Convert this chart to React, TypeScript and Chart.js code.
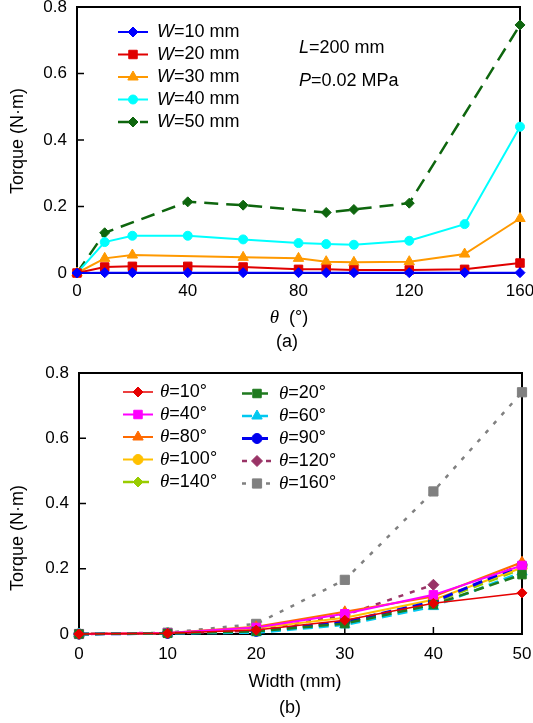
import React, { useEffect, useRef } from 'react';
import { Chart, registerables } from 'chart.js';
Chart.register(...registerables);

const SANS = '"Liberation Sans", Arial, Helvetica, sans-serif';
const SERIF = '"Liberation Serif", "Times New Roman", serif';
const FS = 18;
const TICK_FS = 17;

// ---------- (a) Torque vs theta ----------
const THETA = [0, 10, 20, 40, 60, 80, 90, 100, 120, 140, 160];
const THETA_TICKS = [0, 40, 80, 120, 160];
const W10 = [0, 0.001, 0.001, 0.001, 0.001, 0.001, 0.001, 0.001, 0.001, 0.001, 0.001];
const W20 = [0, 0.018, 0.02, 0.02, 0.018, 0.011, 0.011, 0.009, 0.009, 0.011, 0.03];
const W30 = [0, 0.044, 0.054, null, 0.047, 0.044, 0.034, 0.032, 0.034, 0.057, 0.164];
const W40 = [0, 0.093, 0.112, 0.112, 0.101, 0.09, 0.087, 0.085, 0.097, 0.147, 0.44];
const W50 = [0, 0.121, null, 0.214, 0.204, null, 0.182, 0.191, 0.21, null, 0.746];

// ---------- (b) Torque vs width ----------
const WIDTH = [0, 10, 20, 30, 40, 50];
const WIDTH_TICKS = [0, 10, 20, 30, 40, 50];
const T10 = [0, 0.002, 0.012, 0.042, 0.094, 0.126];
const T20 = [0, 0.002, 0.008, 0.032, 0.09, 0.182];
const T40 = [0, 0.003, 0.02, 0.062, 0.12, 0.21];
const T60 = [0, 0.002, 0.004, 0.028, 0.084, 0.19];
const T80 = [0, 0.003, 0.022, 0.068, 0.115, 0.22];
const T90 = [0, 0.002, 0.008, 0.038, 0.099, 0.212];
const T100 = [0, 0.003, 0.018, 0.05, 0.105, 0.203];
const T120 = [0, 0.002, 0.01, 0.058, 0.151, null];
const T140 = [0, 0.002, 0.01, 0.036, 0.096, 0.2];
const T160 = [0, 0.004, 0.031, 0.166, 0.437, 0.741];

const TORQUE_TICKS = [0, 0.2, 0.4, 0.6, 0.8];

type Seg = [string, string];
const sans = (s: string): Seg => [s, `${FS}px ${SANS}`];
const itSans = (s: string): Seg => [s, `italic ${FS}px ${SANS}`];
const itSerif = (s: string): Seg => [s, `italic ${FS + 1}px ${SERIF}`];

function ds(label: string, xs: number[], ys: (number | null)[], color: string, style: string, radius: number, dash: number[], width: number) {
  const data = xs.map((x, i) => ({ x, y: ys[i] })).filter((p) => p.y !== null);
  return {
    label,
    data,
    borderColor: color,
    backgroundColor: color,
    pointBackgroundColor: color,
    pointBorderColor: color,
    pointStyle: style,
    pointRadius: radius,
    pointBorderWidth: 1,
    borderWidth: width,
    borderDash: dash,
    tension: 0,
    clip: false as any,
  };
}

function drawMarker(ctx: CanvasRenderingContext2D, style: string, x: number, y: number, r: number, color: string) {
  ctx.save();
  ctx.fillStyle = color;
  ctx.strokeStyle = color;
  ctx.lineWidth = 1;
  ctx.setLineDash([]);
  ctx.beginPath();
  if (style === 'circle') {
    ctx.arc(x, y, r, 0, Math.PI * 2);
  } else if (style === 'rect') {
    const s = Math.SQRT1_2 * r;
    ctx.rect(x - s, y - s, 2 * s, 2 * s);
  } else if (style === 'rectRot') {
    ctx.moveTo(x - r, y);
    ctx.lineTo(x, y - r);
    ctx.lineTo(x + r, y);
    ctx.lineTo(x, y + r);
    ctx.closePath();
  } else if (style === 'triangle') {
    let rad = 0;
    ctx.moveTo(x + Math.sin(rad) * r, y - Math.cos(rad) * r);
    rad += (2 * Math.PI) / 3;
    ctx.lineTo(x + Math.sin(rad) * r, y - Math.cos(rad) * r);
    rad += (2 * Math.PI) / 3;
    ctx.lineTo(x + Math.sin(rad) * r, y - Math.cos(rad) * r);
    ctx.closePath();
  }
  ctx.fill();
  ctx.stroke();
  ctx.restore();
}

function segWidth(ctx: CanvasRenderingContext2D, segs: Seg[]) {
  let w = 0;
  for (const [t, f] of segs) {
    ctx.font = f;
    w += ctx.measureText(t).width;
  }
  return w;
}

function drawSegs(ctx: CanvasRenderingContext2D, segs: Seg[], x: number, y: number, align: string) {
  ctx.save();
  ctx.fillStyle = '#000';
  ctx.textBaseline = 'middle';
  ctx.textAlign = 'left';
  let cx = x;
  if (align === 'center') cx = x - segWidth(ctx, segs) / 2;
  for (const [t, f] of segs) {
    ctx.font = f;
    ctx.fillText(t, cx, y);
    cx += ctx.measureText(t).width;
  }
  ctx.restore();
}

function labelSegs(label: string): Seg[] {
  const first = label[0];
  const rest = label.slice(1);
  return [first === 'θ' ? itSerif(first) : itSans(first), sans(rest)];
}

const decor = {
  id: 'decor',
  beforeDatasetsDraw(chart: any) {
    const { ctx, chartArea: a } = chart;
    ctx.save();
    ctx.strokeStyle = '#000';
    ctx.lineWidth = 2;
    ctx.setLineDash([]);
    ctx.strokeRect(a.left, a.top, a.right - a.left, a.bottom - a.top);
    ctx.lineWidth = 1.5;
    const xs = chart.scales.x;
    const ys = chart.scales.y;
    ctx.beginPath();
    xs.ticks.forEach((t: any) => {
      if (t.value <= xs.min || t.value >= xs.max) return;
      const p = xs.getPixelForValue(t.value);
      ctx.moveTo(p, a.bottom);
      ctx.lineTo(p, a.bottom - 7);
    });
    ys.ticks.forEach((t: any) => {
      if (t.value <= ys.min || t.value >= ys.max) return;
      const p = ys.getPixelForValue(t.value);
      ctx.moveTo(a.left, p);
      ctx.lineTo(a.left + 7, p);
    });
    ctx.stroke();
    ctx.restore();
  },
  afterDraw(chart: any, _args: any, opts: any) {
    const ctx: CanvasRenderingContext2D = chart.ctx;
    (opts.texts || []).forEach((t: any) => {
      if (t.rotate) {
        ctx.save();
        ctx.translate(t.x, t.y);
        ctx.rotate(-Math.PI / 2);
        drawSegs(ctx, t.segs, 0, 0, 'center');
        ctx.restore();
      } else {
        drawSegs(ctx, t.segs, t.x, t.y, t.align || 'left');
      }
    });
    (opts.legend || []).forEach((col: any) => {
      col.items.forEach((idx: number, row: number) => {
        const d = chart.data.datasets[idx];
        const y = col.y0 + row * col.dy;
        ctx.save();
        ctx.strokeStyle = d.borderColor;
        ctx.lineWidth = d.borderWidth;
        ctx.setLineDash(d.borderDash || []);
        ctx.beginPath();
        ctx.moveTo(col.x0, y);
        ctx.lineTo(col.x1, y);
        ctx.stroke();
        ctx.restore();
        drawMarker(ctx, d.pointStyle, (col.x0 + col.x1) / 2, y, d.pointRadius, d.borderColor);
        drawSegs(ctx, labelSegs(d.label), col.tx, y, 'left');
      });
    });
  },
};

function makeConfig(p: any) {
  return {
    type: 'line',
    data: { datasets: p.datasets },
    plugins: [decor],
    options: {
      responsive: false,
      animation: false,
      events: [],
      layout: { padding: { left: 0, top: p.top, right: p.right, bottom: 0 } },
      plugins: {
        legend: { display: false },
        tooltip: { enabled: false },
        decor: { texts: p.texts, legend: p.legend },
      },
      scales: {
        x: {
          type: 'linear',
          min: p.xTicks[0],
          max: p.xTicks[p.xTicks.length - 1],
          afterBuildTicks: (s: any) => { s.ticks = p.xTicks.map((v: number) => ({ value: v })); },
          afterFit: (s: any) => { s.height = p.xHeight; s.paddingLeft = 0; s.paddingRight = 0; },
          grid: { display: false, drawTicks: false },
          border: { display: false },
          ticks: { color: '#000', font: { family: SANS, size: TICK_FS }, padding: p.xPad, autoSkip: false, maxRotation: 0 },
        },
        y: {
          type: 'linear',
          min: 0,
          max: 0.8,
          afterBuildTicks: (s: any) => { s.ticks = TORQUE_TICKS.map((v) => ({ value: v })); },
          afterFit: (s: any) => { s.width = p.yWidth; s.paddingTop = 0; s.paddingBottom = 0; },
          grid: { display: false, drawTicks: false },
          border: { display: false },
          ticks: {
            color: '#000',
            font: { family: SANS, size: TICK_FS },
            padding: 10,
            autoSkip: false,
            callback: (v: number) => (v === 0 ? '0' : Number(v).toFixed(1)),
          },
        },
      },
    },
  };
}

const configA = () =>
  makeConfig({
    datasets: [
      ds('W=10 mm', THETA, W10, '#0000FF', 'rectRot', 5, [], 2),
      ds('W=20 mm', THETA, W20, '#E00000', 'rect', 6, [], 2),
      ds('W=30 mm', THETA, W30, '#FF9900', 'triangle', 6, [], 2),
      ds('W=40 mm', THETA, W40, '#00FFFF', 'circle', 4.5, [], 2),
      ds('W=50 mm', THETA, W50, '#0E660E', 'rectRot', 5, [14, 8], 2.5),
    ],
    xTicks: THETA_TICKS,
    top: 7,
    right: 13,
    xHeight: 82,
    yWidth: 77,
    xPad: 8,
    texts: [
      { segs: [itSans('L'), sans('=200 mm')], x: 299, y: 48 },
      { segs: [itSans('P'), sans('=0.02 MPa')], x: 299, y: 81 },
      { segs: [itSerif('θ'), sans('  (°)')], x: 289, y: 318, align: 'center' },
      { segs: [sans('(a)')], x: 287, y: 342, align: 'center' },
      { segs: [sans('Torque (N·m)')], x: 18, y: 141, rotate: true },
    ],
    legend: [{ x0: 118, x1: 148, tx: 157, y0: 32, dy: 22.5, items: [0, 1, 2, 3, 4] }],
  });

const configB = () =>
  makeConfig({
    datasets: [
      ds('θ=10°', WIDTH, T10, '#E60000', 'rectRot', 5, [], 1.5),
      ds('θ=20°', WIDTH, T20, '#1F7A1F', 'rect', 6, [10, 6], 2.5),
      ds('θ=40°', WIDTH, T40, '#FF00FF', 'rect', 6, [], 2),
      ds('θ=60°', WIDTH, T60, '#00C8F0', 'triangle', 6, [10, 6], 2.5),
      ds('θ=80°', WIDTH, T80, '#FF6A00', 'triangle', 6, [], 2),
      ds('θ=90°', WIDTH, T90, '#0000EE', 'circle', 5, [10, 6], 3),
      ds('θ=100°', WIDTH, T100, '#FFC000', 'circle', 5, [], 2),
      ds('θ=120°', WIDTH, T120, '#993366', 'rectRot', 5.5, [5, 7], 2.5),
      ds('θ=140°', WIDTH, T140, '#99CC00', 'rectRot', 5, [10, 6], 2.5),
      ds('θ=160°', WIDTH, T160, '#808080', 'rect', 6.5, [4, 8], 2.5),
    ],
    xTicks: WIDTH_TICKS,
    top: 18,
    right: 11,
    xHeight: 89,
    yWidth: 79,
    xPad: 10,
    texts: [
      { segs: [sans('Width (mm)')], x: 295, y: 327, align: 'center' },
      { segs: [sans('(b)')], x: 290, y: 353, align: 'center' },
      { segs: [sans('Torque (N·m)')], x: 18, y: 183, rotate: true },
    ],
    legend: [
      { x0: 123, x1: 153, tx: 160, y0: 37, dy: 22.5, items: [0, 2, 4, 6, 8] },
      { x0: 242, x1: 272, tx: 279, y0: 38.5, dy: 22.5, items: [1, 3, 5, 7, 9] },
    ],
  });

function ChartCanvas({ config, width, height, top }: any) {
  const ref = useRef<HTMLCanvasElement>(null);
  useEffect(() => {
    const c = new Chart(ref.current as HTMLCanvasElement, config() as any);
    return () => c.destroy();
  }, []);
  return (
    <canvas
      ref={ref}
      width={width}
      height={height}
      style={{ position: 'absolute', left: 0, top, width, height, display: 'block' }}
    />
  );
}

export default function App() {
  return (
    <div style={{ position: 'absolute', left: 0, top: 0, width: 533, height: 723, background: '#fff' }}>
      <ChartCanvas config={configA} width={533} height={355} top={0} />
      <ChartCanvas config={configB} width={533} height={368} top={355} />
    </div>
  );
}
